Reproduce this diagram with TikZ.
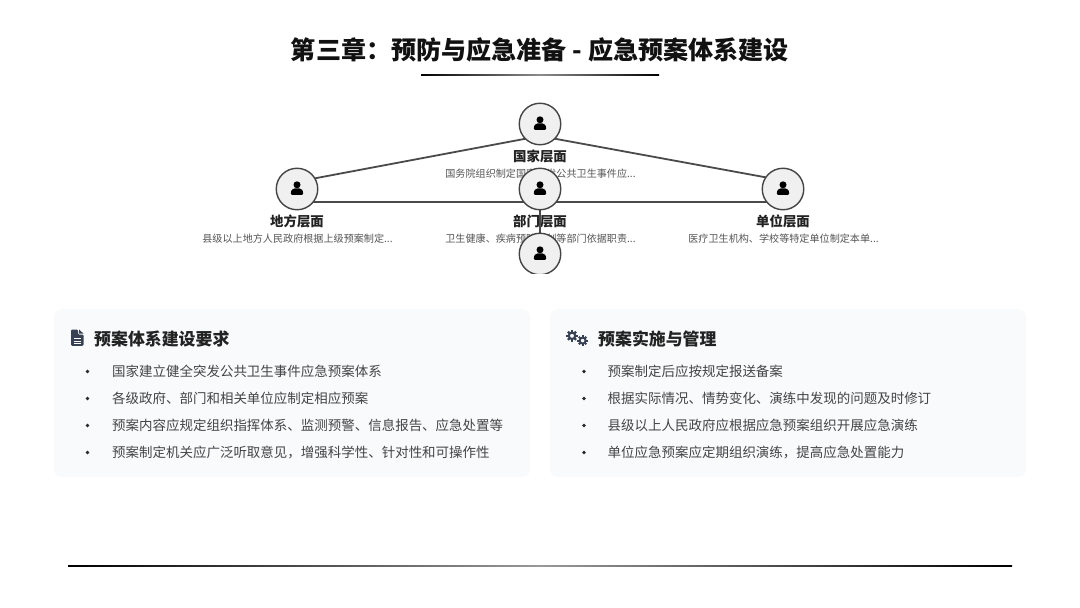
\documentclass[tikz,border=0pt]{standalone}
\usepackage{fontspec}
\setmainfont{Noto Sans CJK SC}
\usetikzlibrary{calc}
\definecolor{ink}{HTML}{111111}
\definecolor{headc}{HTML}{222222}
\definecolor{itemc}{HTML}{444444}
\definecolor{descc}{HTML}{555555}
\definecolor{edgec}{HTML}{4A4A4A}
\definecolor{cardc}{HTML}{F8FAFC}
\definecolor{iconc}{HTML}{374151}
\newcommand{\fsz}[1]{\fontsize{#1}{#1}\selectfont}
\newcommand{\fwcolon}{^^^^ff1a}
\newcommand{\fwcomma}{^^^^ff0c}
\tikzset{
  x=1pt,y=-1pt,
  person/.style={circle,draw=itemc,line width=1.4pt,fill=black!6,minimum size=41.5pt,inner sep=0pt},
  edgeline/.style={draw=edgec,line width=1.8pt},
  lvl/.style={font=\fsz{13.4}\bfseries,text=headc,inner sep=0pt,anchor=center},
  descr/.style={font=\fsz{10.1},text=descc,inner sep=0pt,anchor=center},
  cardbox/.style={fill=cardc,rounded corners=8pt,draw=none},
  cardhead/.style={font=\fsz{16.9}\bfseries,text=headc,inner sep=0pt,anchor=west,text height=13pt,text depth=3pt},
  item/.style={font=\fsz{13.48},text=itemc,inner sep=0pt,anchor=west,text height=11.5pt,text depth=2.5pt},
  dotc/.style={circle,fill=black!85,inner sep=0pt,minimum size=3.7pt},
  pics/personicon/.style={code={
    \fill[black] (0,-4.2) circle (3.5);
    \fill[black] (-6.2,4.6) .. controls (-6.2,1.2) and (-4.2,-0.6) .. (-2.4,-0.6) -- (2.4,-0.6) .. controls (4.2,-0.6) and (6.2,1.2) .. (6.2,4.6) .. controls (6.2,5.4) and (5.8,5.8) .. (5,5.8) -- (-5,5.8) .. controls (-5.8,5.8) and (-6.2,5.4) .. (-6.2,4.6) -- cycle;
  }},
  pics/gearicon/.style={code={
    \draw[iconc,line width=#1*0.4pt] (0,0) circle (#1*0.62);
    \foreach \a in {0,45,...,315}{
      \fill[iconc,rotate=\a] (-#1*0.22,#1*0.7) rectangle (#1*0.22,#1*1.1);
    }
  }},
}
\begin{document}
\begin{tikzpicture}
\useasboundingbox (0,0) rectangle (1080,608);
\fill[white] (0,0) rectangle (1080,608);

% title
\node[font=\fsz{25.1}\bfseries,text=ink,inner sep=0pt] (title) at (540,50) {第三章\fwcolon{}预防与应急准备 - 应急预案体系建设};
\shade[left color=black,right color=black,middle color=black!45] (421,74.2) rectangle (659,75.8);

% node centres, so that connectors run from node to node
\coordinate (natc) at (540,124);
\coordinate (locc) at (297,189);
\coordinate (depc) at (540,189);
\coordinate (unic) at (783,189);
\coordinate (subc) at (540,254);

% connectors
\draw[edgeline] ($(natc)+(0,12)$) -- ($(locc)+(0,-7.3)$);
\draw[edgeline] ($(natc)+(0,12)$) -- ($(unic)+(0,-8.5)$);
\draw[edgeline] ($(locc)+(0,12.6)$) -- ($(unic)+(0,12.6)$);

% labels
\node[lvl] (natl) at (540,156) {国家层面};
\node[descr] (natd) at (540.5,173.5) {国务院组织制定国家突发公共卫生事件应...};
\node[lvl] (locl) at (297,221) {地方层面};
\node[descr] (locd) at (297.5,238.5) {县级以上地方人民政府根据上级预案制定...};
\node[lvl] (depl) at (540,221) {部门层面};
\node[descr] (depd) at (540.5,238.5) {卫生健康、疾病预防控制等部门依据职责...};
\node[lvl] (unil) at (783,221) {单位层面};
\node[descr] (unid) at (783.5,238.5) {医疗卫生机构、学校等特定单位制定本单...};
\draw[edgeline] (depc) -- (subc);

% circles
\node[person] (nat) at (natc) {};
\node[person] (loc) at (locc) {};
\node[person] (dep) at (depc) {};
\node[person] (uni) at (unic) {};
\begin{scope}
  \clip (500,225) rectangle (580,273.8);
  \node[person] (sub) at (subc) {};
\end{scope}
\foreach \c in {natc,locc,depc,unic,subc}{ \pic at (\c) {personicon}; }

% cards
\fill[cardbox] (54,309) rectangle (530,477);
\fill[cardbox] (550,309) rectangle (1026,477);

% document icon
\fill[iconc,rounded corners=1.2pt] (71,329.5) -- (78,329.5) -- (78,334.5) -- (83.5,334.5) -- (83.5,345.8) -- (71,345.8) -- cycle;
\fill[iconc] (79,329.5) -- (83.5,333.6) -- (79,333.6) -- cycle;
\draw[white,line width=0.9pt] (74,338.5) -- (80.5,338.5) (74,341) -- (80.5,341) (74,343.4) -- (80.5,343.4);

% gear icon
\pic at (572,335.8) {gearicon=5.2};
\pic at (582.6,340.6) {gearicon=4.8};

% left card text
\node[cardhead] (lh) at (94,340.4) {预案体系建设要求};
\node[item] (l1) at (112,371.8) {国家建立健全突发公共卫生事件应急预案体系};
\node[item] (l2) at (112,398.8) {各级政府、部门和相关单位应制定相应预案};
\node[item] (l3) at (112,425.8) {预案内容应规定组织指挥体系、监测预警、信息报告、应急处置等};
\node[item] (l4) at (112,452.8) {预案制定机关应广泛听取意见\fwcomma{}增强科学性、针对性和可操作性};
\foreach \y in {371.5,398.5,425.5,452.5}{ \node[dotc] at (87.5,\y) {}; }

% right card text
\node[cardhead] (rh) at (598,340.4) {预案实施与管理};
\node[item] (r1) at (607.5,371.8) {预案制定后应按规定报送备案};
\node[item] (r2) at (607.5,398.8) {根据实际情况、情势变化、演练中发现的问题及时修订};
\node[item] (r3) at (607.5,425.8) {县级以上人民政府应根据应急预案组织开展应急演练};
\node[item] (r4) at (607.5,452.8) {单位应急预案应定期组织演练\fwcomma{}提高应急处置能力};
\foreach \y in {371.5,398.5,425.5,452.5}{ \node[dotc] at (584,\y) {}; }

% bottom rule
\shade[left color=black,right color=black,middle color=black!40] (68,565.5) rectangle (1012,566.9);
\end{tikzpicture}
\end{document}
